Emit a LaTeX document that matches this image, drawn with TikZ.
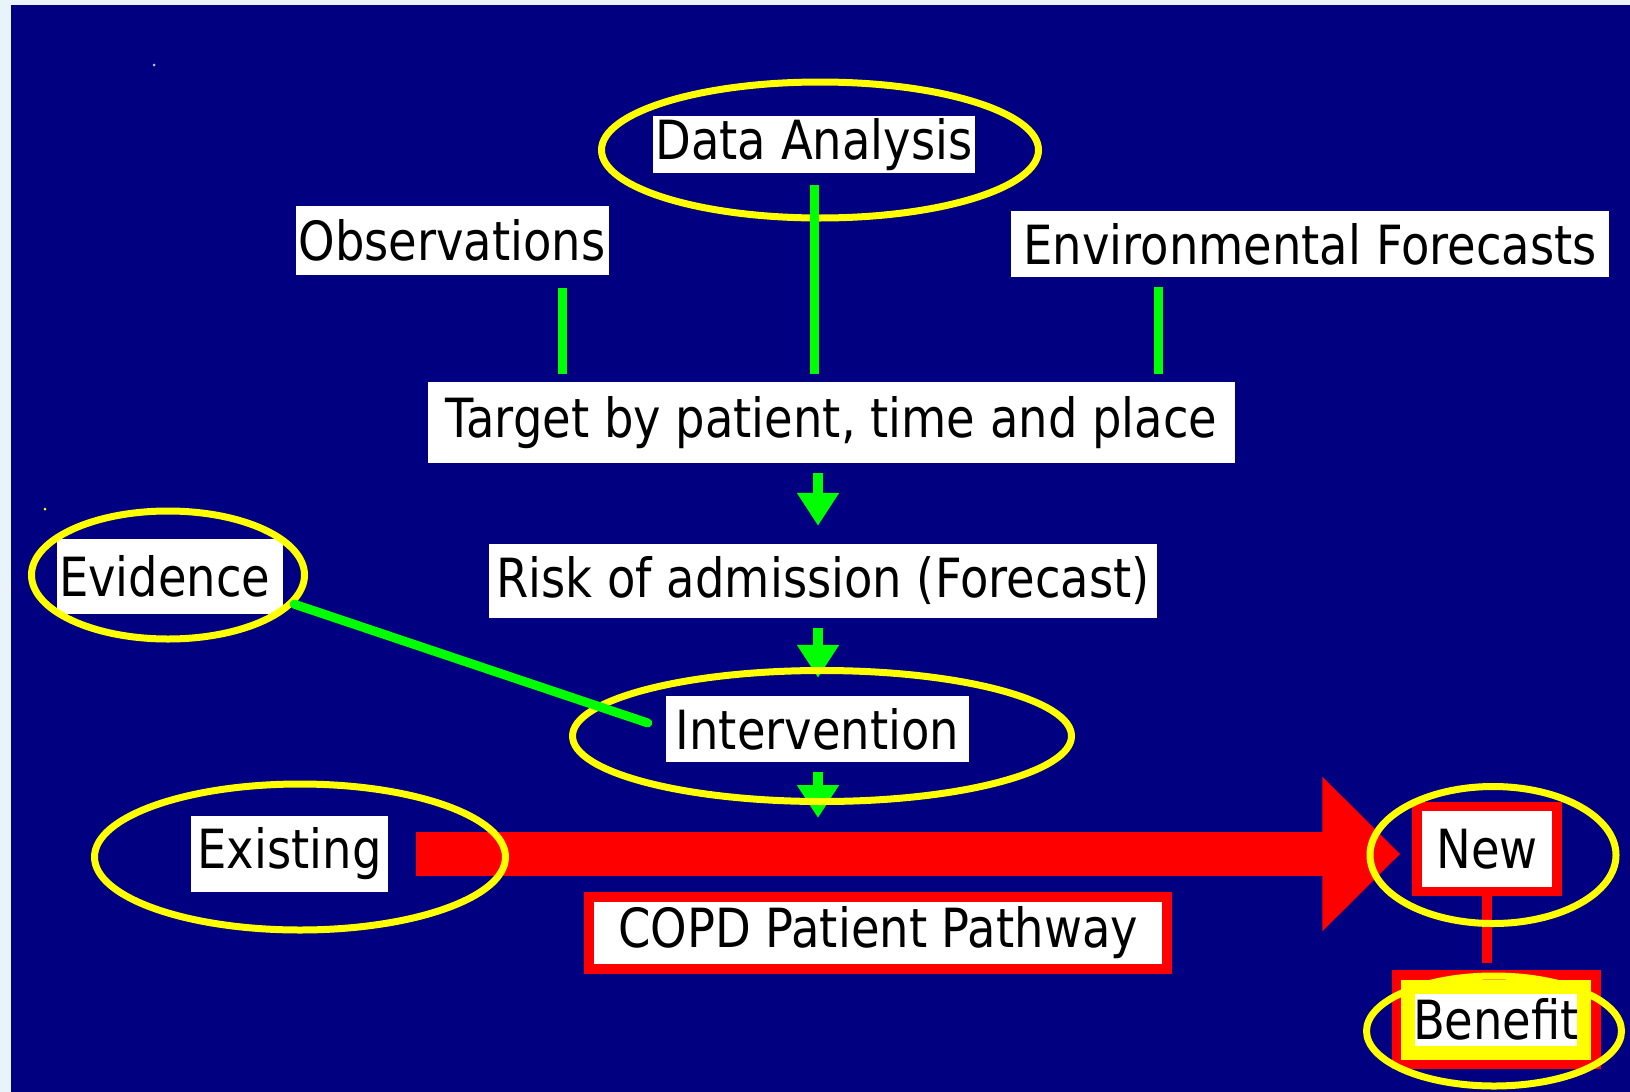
\documentclass[tikz,border=0pt]{standalone}
\usepackage{fontspec}
\setmainfont{DejaVu Sans}[FakeStretch=0.86]
\usetikzlibrary{arrows.meta,shapes.geometric}

\definecolor{slide}{RGB}{0,0,128}
\definecolor{margin}{RGB}{232,243,252}
\definecolor{ringyellow}{RGB}{255,255,0}
\definecolor{linkgreen}{RGB}{0,255,0}
\definecolor{pathred}{RGB}{255,0,0}

\begin{document}
\begin{tikzpicture}[x=1pt, y=-1pt,
  font=\fontsize{54}{60}\selectfont,
  tag/.style={fill=white, text=black, inner sep=0pt},
  redtag/.style={tag, draw=pathred, line width=10pt},
  ring/.style={ellipse, draw=ringyellow, line width=7pt, inner sep=0pt},
  link/.style={draw=linkgreen, line width=9pt},
  flow/.style={linkgreen, line width=10pt, -{Triangle[length=33pt,width=40pt]}}]

  % slide background
  \useasboundingbox (0,0) rectangle (1630,1092);
  \fill[margin] (0,0) rectangle (1630,1092);
  \fill[slide] (11,5) rectangle (1630,1092);
  \fill[white!75!slide] (154,65) circle (1.5);
  \fill[ringyellow] (45,509) circle (1.5);

  % labels
  \node[tag, minimum width=322, minimum height=57] (da) at (814,144.5) {Data Analysis};
  \node[tag, minimum width=313, minimum height=69] (obs) at (452,240.5) {Observations};
  \node[tag, minimum width=598, minimum height=66] (env) at (1310,244) {Environmental Forecasts};
  \node[tag, minimum width=807, minimum height=81] (target) at (831.5,422.5) {Target by patient, time and place};
  \node[tag, minimum width=668, minimum height=74] (risk) at (823,581) {Risk of admission (Forecast)};
  \node[tag, minimum width=303, minimum height=66] (interv) at (817.5,729) {Intervention};
  \node[tag, inner xsep=2pt, text width=222pt, align=left, minimum height=75] (evid) at (170,576.5) {Evidence};
  \node[tag, minimum width=197, minimum height=76] (exist) at (289.5,854) {Existing};
  \node[redtag, minimum width=578, minimum height=72] (copd) at (878,933) {COPD Patient Pathway};
  \node[redtag, line width=9.5pt, minimum width=140, minimum height=85] (new) at (1487,849) {New};
  \node[tag, draw=ringyellow, line width=14pt, preaction={draw=pathred, line width=33pt},
        minimum width=176, minimum height=66] (benefit) at (1496,1019.5) {Benefit};

  % pathway
  \draw[pathred, line width=44pt, -{Triangle[length=78pt,width=150pt]},
        shorten <=28pt, shorten >=12pt] (exist.east) -- (exist.east -| new.west);
  \draw[pathred, line width=10pt, shorten >=17pt] (new.south) -- (new.south |- benefit.north);

  % forecast chain
  \coordinate (spine) at (818,600);
  \coordinate (shaft) at ([yshift=22pt]exist.east);
  \draw[flow, shorten <=10pt, shorten >=18pt] (target.south -| spine) -- (risk.north -| spine);
  \draw[flow, shorten <=10pt, shorten >=18pt] (risk.south -| spine) -- (interv.north -| spine);
  \draw[flow, shorten <=10pt, shorten >=14pt] (interv.south -| spine) -- (shaft -| spine);

  % rings
  \node[ring, minimum width=437, minimum height=136] (daring) at (820,150) {};
  \node[ring, minimum width=499, minimum height=131] (intring) at (822,736) {};
  \node[ring, minimum width=273, minimum height=128] (evring) at (168,575) {};
  \node[ring, minimum width=411, minimum height=146] (exring) at (300,857) {};
  \node[ring, minimum width=246, minimum height=137] (newring) at (1493,855) {};
  \node[ring, minimum width=255, minimum height=110] (benring) at (1494,1031) {};

  % inputs to the target
  \coordinate (obsfoot) at ([xshift=110pt]obs.south);
  \coordinate (envfoot) at ([xshift=-152pt]env.south);
  \draw[link, shorten <=13pt, shorten >=8pt] (obsfoot) -- (obsfoot |- target.north);
  \draw[link, shorten <=12pt, shorten >=8pt] (da.south) -- (da.south |- target.north);
  \draw[link, shorten <=10pt, shorten >=8pt] (envfoot) -- (envfoot |- target.north);
  \draw[link, line cap=round, shorten >=19pt] (evring.-13) -- (interv.west);
\end{tikzpicture}
\end{document}
